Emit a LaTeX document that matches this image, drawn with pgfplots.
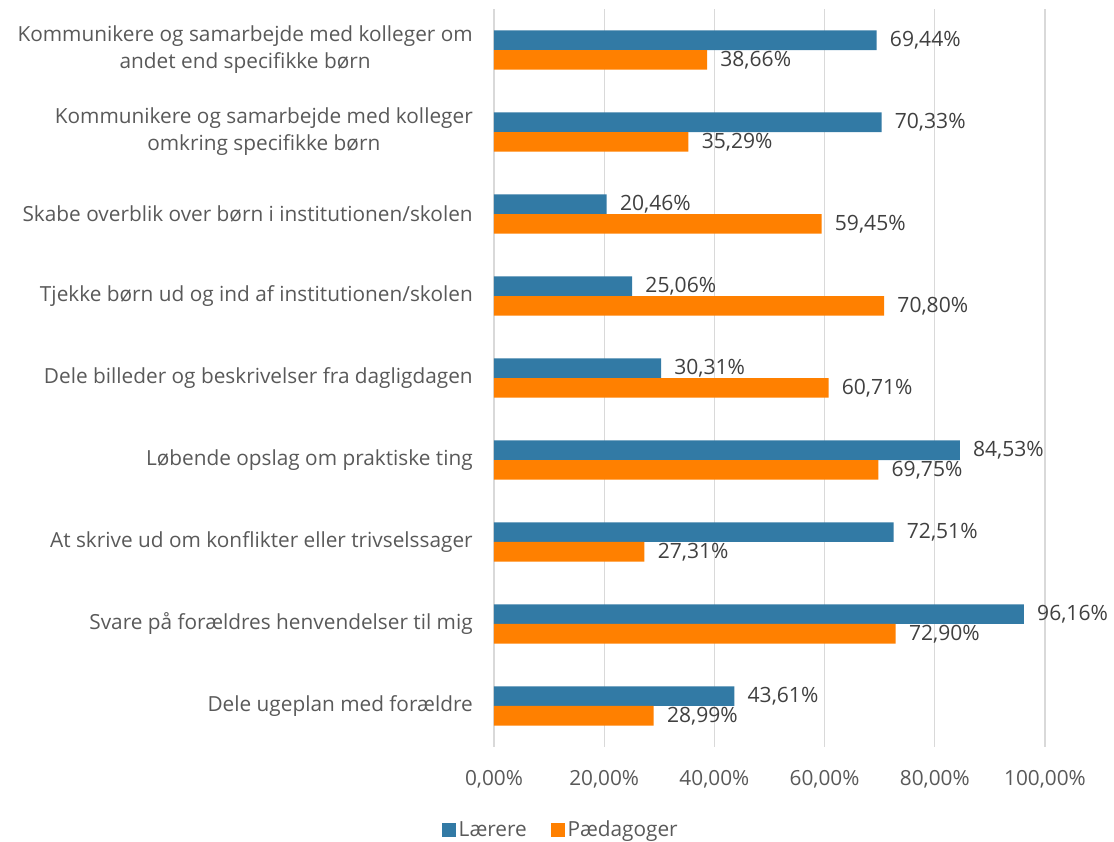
\documentclass[border=0pt]{standalone}
\usepackage{fontspec}
\setmainfont{Open Sans}
\usepackage{pgfplots}
\pgfplotsset{compat=1.18}
\definecolor{barblue}{RGB}{50,122,165}
\definecolor{barorange}{RGB}{255,128,0}
\definecolor{txtgray}{RGB}{89,89,89}
\definecolor{lblgray}{RGB}{64,64,64}
\definecolor{gridgray}{RGB}{217,217,217}
\begin{document}
\begin{tikzpicture}
\pgfkeys{/pgf/number format/assume math mode=true}
\begin{axis}[
  at={(0,0)}, anchor=south west,
  scale only axis,
  width=413.25pt, height=553.5pt,
  xbar, bar width=0.24,
  xmin=0, xmax=100,
  ymin=-0.5, ymax=8.5,
  xtick={0,20,...,100},
  xticklabel={\pgfmathprintnumber[fixed,fixed zerofill,precision=2,use comma]{\tick}\%},
  ytick={0,...,8},
  yticklabels={
    Dele ugeplan med forældre,
    Svare på forældres henvendelser til mig,
    At skrive ud om konflikter eller trivselssager,
    Løbende opslag om praktiske ting,
    Dele billeder og beskrivelser fra dagligdagen,
    Tjekke børn ud og ind af institutionen/skolen,
    Skabe overblik over børn i institutionen/skolen,
    {Kommunikere og samarbejde med kolleger\\omkring specifikke børn},
    {Kommunikere og samarbejde med kolleger om\\andet end specifikke børn}
  },
  axis line style={draw=none},
  major tick length=0pt,
  xmajorgrids,
  major grid style={gridgray, line width=1pt},
  xticklabel style={font=\fontsize{15.6pt}{18pt}\selectfont, text=txtgray, anchor=center, yshift=-24pt, inner sep=0pt},
  yticklabel style={font=\fontsize{15.6pt}{20.25pt}\selectfont, text=txtgray, anchor=east, align=center, inner sep=0pt, xshift=-15.75pt},
  nodes near coords={\pgfmathprintnumber[fixed,fixed zerofill,precision=2,use comma]{\pgfplotspointmeta}\%},
  nodes near coords style={font=\fontsize{15.8pt}{18pt}\selectfont, text=lblgray, anchor=west, xshift=6.5pt},
  legend columns=2,
  legend style={draw=none, fill=none, at={(0.122,-0.1125)}, anchor=center,
    font=\fontsize{15.6pt}{18pt}\selectfont, text=txtgray,
    /tikz/every even column/.append style={column sep=16pt}},
  legend image code/.code={\fill[#1] (0pt,-5.25pt) rectangle (10.5pt,5.25pt);},
]
\addplot[draw=none, fill=barblue, bar shift=0.12] coordinates {
  (43.61,0) (96.16,1) (72.51,2) (84.53,3) (30.31,4) (25.06,5) (20.46,6) (70.33,7) (69.44,8)
};
\addlegendentry{Lærere}
\addplot[draw=none, fill=barorange, bar shift=-0.12] coordinates {
  (28.99,0) (72.90,1) (27.31,2) (69.75,3) (60.71,4) (70.80,5) (59.45,6) (35.29,7) (38.66,8)
};
\addlegendentry{Pædagoger}
\end{axis}
\pgfresetboundingbox
\path (-370.5pt,-71.25pt) rectangle (465pt,560.25pt);
\end{tikzpicture}
\end{document}
